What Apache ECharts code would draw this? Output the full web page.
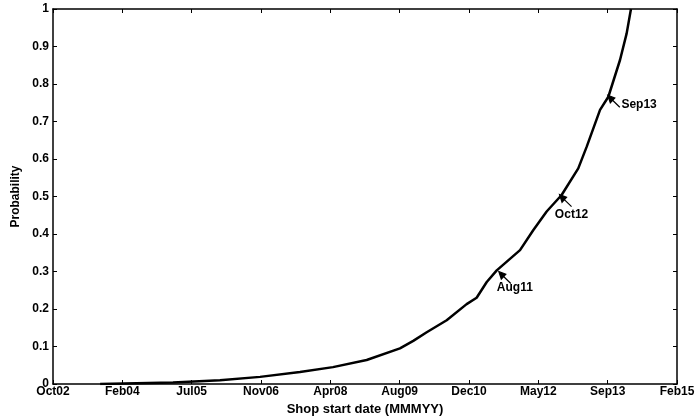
<!DOCTYPE html>
<html>
<head>
<meta charset="utf-8">
<script src="https://cdn.jsdelivr.net/npm/echarts@6/dist/echarts.min.js"></script>
<style>
  html, body { margin: 0; padding: 0; background: #fff; }
  #chart { width: 698px; height: 420px; }
</style>
</head>
<body>
<div id="chart"></div>
<script>
// x values are days since Oct 2002, ticks every 500 days
const xTickLabels = ['Oct02', 'Feb04', 'Jul05', 'Nov06', 'Apr08', 'Aug09', 'Dec10', 'May12', 'Sep13', 'Feb15']
const curveDays = [340, 865, 1204, 1493, 1781, 2019, 2262, 2502, 2598, 2695, 2839, 2983, 3055, 3128, 3200, 3368, 3463, 3560, 3668, 3788, 3849, 3945, 4005, 4089, 4137, 4168]
const curveProb = [0.000, 0.004, 0.010, 0.019, 0.032, 0.045, 0.064, 0.095, 0.115, 0.138, 0.170, 0.213, 0.230, 0.272, 0.303, 0.357, 0.410, 0.460, 0.504, 0.575, 0.633, 0.731, 0.766, 0.864, 0.935, 1.000]
const annoNames = ['Aug11', 'Oct12', 'Sep13']
const annoDays = [3215, 3653, 4001]
const annoProb = [0.300, 0.505, 0.770]

const font = 'Liberation Sans, Arial, sans-serif'
// where each annotation's text sits relative to the arrow
const annoLabel = [
    { position: 'bottom', distance: 0, offset: [10, -2] },
    { position: 'bottom', distance: 0, offset: [6, 1] },
    { position: 'right', distance: 0, offset: [1, 3] }
]
const arrowPath = 'path://M0,0L7,2.5L2.5,7Z M3,3L12,11'

const myCharts = echarts.init(document.getElementById('chart'))
const boxAxis = {
    axisLine: { onZero: false, lineStyle: { color: '#000', width: 1.5 } },
    axisTick: { show: true, inside: true, length: 4, lineStyle: { color: '#000' } },
    axisLabel: { show: false },
    splitLine: { show: false }
}
const options = {
    animation: false,
    grid: { left: 53, right: 21, top: 9, bottom: 36, outerBoundsMode: 'none', containLabel: false },
    xAxis: [
        {
            type: 'value',
            min: 0,
            max: 4500,
            interval: 500,
            name: 'Shop start date (MMMYY)',
            nameLocation: 'middle',
            nameGap: 16,
            nameTextStyle: { color: '#000', fontFamily: font, fontSize: 13, fontWeight: 'bold' },
            axisLine: { onZero: false, lineStyle: { color: '#000', width: 1.5 } },
            axisTick: { inside: true, length: 4, lineStyle: { color: '#000' } },
            axisLabel: {
                color: '#000', fontFamily: font, fontSize: 12, fontWeight: 'bold', margin: 2,
                formatter: v => xTickLabels[Math.round(v / 500)]
            },
            splitLine: { show: false }
        },
        Object.assign({ type: 'value', position: 'top', min: 0, max: 4500, interval: 500 }, boxAxis)
    ],
    yAxis: [
        {
            type: 'value',
            min: 0,
            max: 1,
            interval: 0.1,
            name: 'Probability',
            nameLocation: 'middle',
            nameGap: 29,
            nameTextStyle: { color: '#000', fontFamily: font, fontSize: 12, fontWeight: 'bold' },
            axisLine: { show: true, onZero: false, lineStyle: { color: '#000', width: 1.5 } },
            axisTick: { show: true, inside: true, length: 4, lineStyle: { color: '#000' } },
            axisLabel: { color: '#000', fontFamily: font, fontSize: 12, fontWeight: 'bold', margin: 4 },
            splitLine: { show: false }
        },
        Object.assign({ type: 'value', position: 'right', min: 0, max: 1, interval: 0.1 }, boxAxis)
    ],
    series: [
        {
            type: 'line',
            data: curveDays.map((d, i) => [d, curveProb[i]]),
            showSymbol: false,
            lineStyle: { color: '#000', width: 2.5 },
            z: 3
        },
        {
            type: 'scatter',
            data: annoDays.map((d, i) => ({
                name: annoNames[i],
                value: [d, annoProb[i]],
                label: annoLabel[i]
            })),
            symbol: arrowPath,
            symbolSize: [12, 12],
            symbolOffset: [6, 6],
            itemStyle: { color: '#000', borderColor: '#000', borderWidth: 1.2, opacity: 1 },
            label: {
                show: true,
                formatter: '{b}',
                color: '#000',
                fontFamily: font,
                fontSize: 12,
                fontWeight: 'bold'
            },
            z: 4
        }
    ]
}
myCharts.setOption(options)
</script>
</body>
</html>
